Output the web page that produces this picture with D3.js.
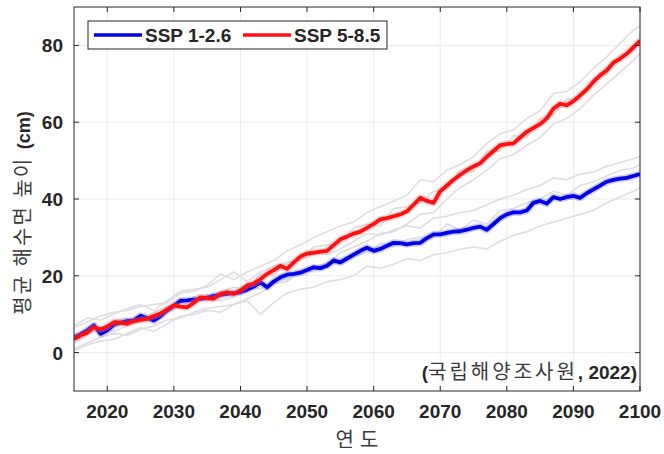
<!DOCTYPE html>
<html lang="ko">
<head>
<meta charset="UTF-8">
<title>평균 해수면 높이 전망</title>
<script src="https://d3js.org/d3.v7.min.js"></script>
<style>
  body { margin: 0; background: #fff; }
  svg { display: block; font-family: 'Liberation Sans', Arial, sans-serif; }
  .tick-label { font-weight: bold; font-size: 19px; fill: #262626; }
  .kr { font-family: 'Noto Sans CJK KR', 'Noto Sans', sans-serif; }
</style>
</head>
<body>
<div id="chart"></div>
<script>
// yearly ensemble-mean sea level rise (cm), 2015..2100
const years = d3.range(2015, 2101);
const ssp126 = [4.0, 4.8, 5.8, 7.1, 4.9, 5.8, 7.3, 7.8, 8.2, 8.4,
  9.6, 9.0, 8.4, 9.5, 11.0, 12.2, 13.5, 13.6, 13.8, 14.0,
  14.3, 14.8, 15.0, 15.3, 15.5, 15.7, 16.4, 17.2, 18.3, 17.0,
  18.5, 19.6, 20.3, 20.5, 20.8, 21.5, 22.2, 22.0, 22.6, 24.0,
  23.5, 24.5, 25.5, 26.5, 27.3, 26.5, 27.0, 27.8, 28.6, 28.5,
  28.2, 28.5, 28.6, 29.8, 30.8, 30.8, 31.2, 31.5, 31.6, 32.0,
  32.5, 32.8, 32.0, 33.5, 35.0, 36.0, 36.5, 36.5, 37.0, 39.0,
  39.5, 38.8, 40.5, 40.0, 40.5, 40.8, 40.3, 41.5, 42.5, 43.5,
  44.5, 45.0, 45.3, 45.5, 46.0, 46.5];
const ssp585 = [3.5, 4.5, 5.2, 6.6, 6.0, 6.8, 7.9, 7.8, 7.5, 8.2,
  8.5, 8.8, 9.5, 10.2, 11.2, 12.3, 12.0, 11.8, 13.0, 14.4,
  14.2, 14.0, 15.3, 15.7, 15.3, 16.2, 17.5, 18.0, 19.1, 20.5,
  21.5, 22.6, 21.8, 23.5, 25.0, 25.8, 26.0, 26.3, 26.5, 28.0,
  29.5, 30.2, 31.0, 31.5, 32.5, 33.5, 34.7, 35.0, 35.5, 36.0,
  36.8, 38.5, 40.3, 39.5, 39.0, 42.0, 43.5, 45.0, 46.3, 47.5,
  48.5, 49.3, 51.0, 52.5, 54.0, 54.3, 54.5, 56.0, 57.5, 58.5,
  59.5, 61.0, 63.5, 64.8, 64.4, 65.5, 67.0, 68.5, 70.5, 72.2,
  73.5, 75.5, 76.5, 77.8, 79.5, 81.2];

// individual model runs (light lines), every 2 years + 2100
const runYears = d3.range(2015, 2100, 2).concat([2100]);
const runs126 = [
  [7.0, 9.0, 8.5, 10.0, 11.5, 12.5, 11.0, 13.5, 16.0, 16.5, 17.0, 19.0, 21.0, 18.5, 21.0,
   22.5, 23.5, 24.0, 26.0, 25.5, 27.0, 29.0, 31.0, 30.5, 32.0, 33.0, 32.5, 35.0, 35.5,
   36.5, 37.0, 38.5, 40.0, 41.0, 42.5, 43.5, 45.5, 45.0, 46.5, 47.0, 48.5, 49.5, 50.5, 51.0],
  [0.5, 2.0, 3.0, 3.5, 5.0, 6.5, 5.5, 7.5, 9.5, 10.0, 11.0, 10.5, 12.5, 13.5, 10.0,
   13.0, 15.5, 16.5, 17.0, 18.5, 19.0, 20.0, 22.5, 22.0, 23.0, 24.5, 24.0, 25.5, 26.0,
   27.0, 27.5, 27.0, 29.0, 30.5, 31.5, 33.0, 34.0, 35.0, 36.0, 37.0, 39.0, 40.5, 42.0, 43.0],
  [2.5, 4.5, 6.5, 5.5, 7.0, 8.0, 9.5, 10.5, 12.0, 12.5, 15.0, 13.5, 14.5, 17.5, 16.5,
   19.0, 19.0, 21.5, 21.0, 23.5, 23.0, 25.0, 26.0, 28.5, 27.5, 29.5, 30.0, 30.0, 33.5,
   32.0, 34.5, 33.5, 37.0, 37.5, 39.0, 40.0, 42.0, 41.0, 43.5, 44.5, 46.0, 47.5, 48.0, 49.0]
];
const runs585 = [
  [6.5, 8.0, 9.5, 10.5, 11.0, 12.0, 12.5, 13.0, 15.5, 16.0, 17.5, 20.5, 19.0, 21.0, 22.5,
   24.0, 26.5, 28.0, 30.0, 31.5, 33.0, 34.0, 36.5, 38.0, 39.5, 41.0, 45.0, 44.5, 47.5,
   49.0, 51.0, 54.5, 57.0, 58.0, 61.0, 63.0, 67.5, 68.0, 70.5, 74.0, 77.0, 80.5, 84.0, 85.0],
  [1.0, 2.5, 4.0, 5.0, 4.5, 6.0, 7.0, 8.5, 9.0, 10.5, 11.5, 12.0, 12.5, 14.0, 15.5,
   18.0, 18.5, 21.0, 22.5, 23.0, 26.0, 27.5, 29.0, 31.0, 31.5, 33.5, 36.0, 36.5, 40.0,
   43.0, 45.0, 47.5, 50.5, 51.5, 54.0, 56.0, 59.5, 61.0, 63.5, 67.0, 70.0, 73.0, 76.0, 78.0],
  [4.0, 6.0, 5.5, 8.5, 9.0, 8.0, 10.5, 12.0, 11.5, 14.5, 13.5, 16.0, 17.0, 16.5, 20.5,
   20.0, 23.5, 24.0, 27.5, 28.0, 28.5, 32.5, 33.5, 33.0, 37.5, 38.0, 39.0, 42.0, 42.5,
   47.5, 47.0, 52.5, 52.5, 56.5, 56.0, 61.0, 62.0, 66.0, 66.0, 71.5, 72.5, 77.5, 78.5, 82.5]
];

const xTicks = [2020, 2030, 2040, 2050, 2060, 2070, 2080, 2090, 2100];
const yTicks = [0, 20, 40, 60, 80];
const seriesNames = ["SSP 1-2.6", "SSP 5-8.5"];

const width = 664, height = 454;
const margin = { top: 7, right: 24, bottom: 63, left: 74 };

const svg = d3.select("#chart").append("svg")
  .attr("width", width)
  .attr("height", height);

const x = d3.scaleLinear().domain([2015, 2100]).range([margin.left, width - margin.right]);
const y = d3.scaleLinear().domain([-10, 90]).range([height - margin.bottom, margin.top]);

const x0 = margin.left, x1 = width - margin.right;
const y0 = height - margin.bottom, y1 = margin.top;

// grid
svg.append("g").selectAll("line").data(xTicks).join("line")
  .attr("x1", d => x(d)).attr("x2", d => x(d))
  .attr("y1", y1).attr("y2", y0)
  .attr("stroke", "#ebebeb").attr("stroke-width", 1);
svg.append("g").selectAll("line").data(yTicks).join("line")
  .attr("x1", x0).attr("x2", x1)
  .attr("y1", d => y(d)).attr("y2", d => y(d))
  .attr("stroke", "#ebebeb").attr("stroke-width", 1);

svg.append("clipPath").attr("id", "plot-clip")
  .append("rect").attr("x", x0).attr("y", y1).attr("width", x1 - x0).attr("height", y0 - y1);

const plot = svg.append("g").attr("clip-path", "url(#plot-clip)");

const runLine = d3.line().x((d, i) => x(runYears[i])).y(d => y(d));
const meanLine = d3.line().x((d, i) => x(years[i])).y(d => y(d));

plot.selectAll(".run126").data(runs126).join("path")
  .attr("class", "run126")
  .attr("d", runLine)
  .attr("fill", "none").attr("stroke", "#dcdde8").attr("stroke-width", 1.6);
plot.selectAll(".run585").data(runs585).join("path")
  .attr("class", "run585")
  .attr("d", runLine)
  .attr("fill", "none").attr("stroke", "#e0dcdd").attr("stroke-width", 1.6);

// main lines: soft halo then core
[[ssp126, "#0000e6", "#6a6aff"], [ssp585, "#ff1010", "#ff8080"]].forEach(([vals, col, halo]) => {
  plot.append("path").datum(vals).attr("d", meanLine)
    .attr("fill", "none").attr("stroke", halo).attr("stroke-opacity", 0.35)
    .attr("stroke-width", 7).attr("stroke-linejoin", "round");
  plot.append("path").datum(vals).attr("d", meanLine)
    .attr("fill", "none").attr("stroke", col)
    .attr("stroke-width", 3.8).attr("stroke-linejoin", "round");
});

// frame and inward ticks
svg.append("rect").attr("x", x0).attr("y", y1)
  .attr("width", x1 - x0).attr("height", y0 - y1)
  .attr("fill", "none").attr("stroke", "#262626").attr("stroke-width", 1);

const tickLen = 5;
const ticks = svg.append("g").attr("stroke", "#262626").attr("stroke-width", 1);
xTicks.forEach(t => {
  ticks.append("line").attr("x1", x(t)).attr("x2", x(t)).attr("y1", y0).attr("y2", y0 - tickLen);
  ticks.append("line").attr("x1", x(t)).attr("x2", x(t)).attr("y1", y1).attr("y2", y1 + tickLen);
});
yTicks.forEach(t => {
  ticks.append("line").attr("x1", x0).attr("x2", x0 + tickLen).attr("y1", y(t)).attr("y2", y(t));
  ticks.append("line").attr("x1", x1).attr("x2", x1 - tickLen).attr("y1", y(t)).attr("y2", y(t));
});

svg.append("g").selectAll("text").data(xTicks).join("text")
  .attr("class", "tick-label")
  .attr("x", d => x(d)).attr("y", y0 + 27)
  .attr("text-anchor", "middle")
  .text(d => d);
svg.append("g").selectAll("text").data(yTicks).join("text")
  .attr("class", "tick-label")
  .attr("x", x0 - 11).attr("y", d => y(d) + 7)
  .attr("text-anchor", "end")
  .text(d => d);

// axis titles
svg.append("text").attr("class", "kr")
  .attr("x", (x0 + x1) / 2 + 3).attr("y", height - 7)
  .attr("text-anchor", "middle")
  .attr("font-size", 20).attr("fill", "#3a3a3a")
  .attr("letter-spacing", 6)
  .text("연도");

const yl = svg.append("text")
  .attr("transform", "translate(30,213) rotate(-90)")
  .attr("text-anchor", "middle")
  .attr("font-size", 18).attr("fill", "#3a3a3a");
yl.append("tspan").attr("class", "kr").attr("font-size", 20).attr("letter-spacing", 2).text("평균 해수면 높이 ");
yl.append("tspan").attr("font-weight", "bold").attr("fill", "#262626").text("(cm)");

// source note
const note = svg.append("text")
  .attr("x", x1 - 3).attr("y", 379)
  .attr("text-anchor", "end")
  .attr("font-size", 19).attr("fill", "#262626");
note.append("tspan").attr("font-weight", "bold").text("(");
note.append("tspan").attr("class", "kr").attr("font-size", 20).attr("letter-spacing", 3).attr("fill", "#3a3a3a").text("국립해양조사원");
note.append("tspan").attr("font-weight", "bold").text(", 2022)");

// legend
const lg = svg.append("g").attr("transform", "translate(88,21)");
lg.append("rect").attr("width", 299).attr("height", 28)
  .attr("fill", "#fff").attr("stroke", "#262626").attr("stroke-width", 1);
const items = [
  { name: seriesNames[0], color: "#0000e6", x: 6 },
  { name: seriesNames[1], color: "#ff1010", x: 155 }
];
items.forEach(it => {
  lg.append("line").attr("x1", it.x).attr("x2", it.x + 48).attr("y1", 14).attr("y2", 14)
    .attr("stroke", it.color).attr("stroke-width", 3.5);
  lg.append("text").attr("x", it.x + 51).attr("y", 20.5)
    .attr("font-size", 19).attr("font-weight", "bold").attr("fill", "#262626")
    .text(it.name);
});
</script>
</body>
</html>
